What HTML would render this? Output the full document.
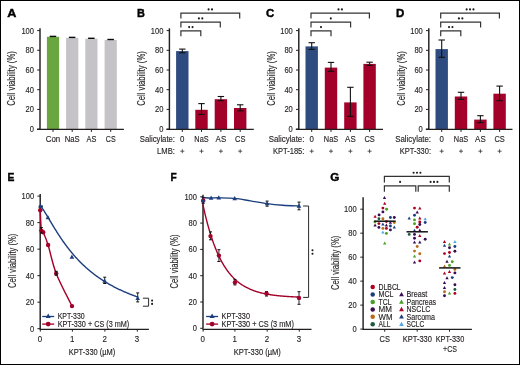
<!DOCTYPE html>
<html><head><meta charset="utf-8"><style>
html,body{margin:0;padding:0;background:#fff;}
svg{display:block;filter:blur(0.35px);}
text{font-family:"Liberation Sans", sans-serif;fill:#231f20;stroke:#231f20;stroke-width:0.14px;}
</style></head><body>
<svg width="520" height="365" viewBox="0 0 520 365">
<rect x="0" y="0" width="520" height="365" fill="#fff"/>
<text x="7.2" y="16.9" font-size="11.6" style="fill:#000;stroke:#000;stroke-width:0.4px" font-weight="bold" textLength="9.1" lengthAdjust="spacingAndGlyphs">A</text>
<text x="15.4" y="105.8" font-size="10.2" textLength="54.6" lengthAdjust="spacingAndGlyphs" transform="rotate(-90 15.4 105.8)">Cell viability (%)</text>
<line x1="40" y1="28.3" x2="40" y2="129.6" stroke="#231f20" stroke-width="1.45"/>
<line x1="37.2" y1="129.1" x2="40" y2="129.1" stroke="#231f20" stroke-width="1"/>
<text x="34" y="132.1" font-size="9" text-anchor="end" textLength="4.2" lengthAdjust="spacingAndGlyphs">0</text>
<line x1="37.2" y1="109.4" x2="40" y2="109.4" stroke="#231f20" stroke-width="1"/>
<text x="34" y="112.4" font-size="9" text-anchor="end" textLength="8.4" lengthAdjust="spacingAndGlyphs">20</text>
<line x1="37.2" y1="89.7" x2="40" y2="89.7" stroke="#231f20" stroke-width="1"/>
<text x="34" y="92.7" font-size="9" text-anchor="end" textLength="8.4" lengthAdjust="spacingAndGlyphs">40</text>
<line x1="37.2" y1="70" x2="40" y2="70" stroke="#231f20" stroke-width="1"/>
<text x="34" y="73" font-size="9" text-anchor="end" textLength="8.4" lengthAdjust="spacingAndGlyphs">60</text>
<line x1="37.2" y1="50.3" x2="40" y2="50.3" stroke="#231f20" stroke-width="1"/>
<text x="34" y="53.3" font-size="9" text-anchor="end" textLength="8.4" lengthAdjust="spacingAndGlyphs">80</text>
<line x1="37.2" y1="30.6" x2="40" y2="30.6" stroke="#231f20" stroke-width="1"/>
<text x="34" y="33.6" font-size="9" text-anchor="end" textLength="12.6" lengthAdjust="spacingAndGlyphs">100</text>
<rect x="46.9" y="36.8" width="12.2" height="92.3" fill="#69a640"/>
<rect x="66.1" y="37.8" width="12.2" height="91.3" fill="#c5c3c8"/>
<rect x="85.3" y="38.7" width="12.2" height="90.4" fill="#c5c3c8"/>
<rect x="104.6" y="39.9" width="12.2" height="89.2" fill="#c5c3c8"/>
<rect x="49.7" y="35.7" width="6.5" height="1.4" fill="#0a0a0a"/>
<rect x="68.9" y="36.7" width="6.5" height="1.4" fill="#0a0a0a"/>
<rect x="88.1" y="37.6" width="6.5" height="1.4" fill="#0a0a0a"/>
<rect x="107.4" y="38.8" width="6.5" height="1.4" fill="#0a0a0a"/>
<line x1="37" y1="129.4" x2="123.9" y2="129.4" stroke="#231f20" stroke-width="1.35"/>
<line x1="53" y1="129.1" x2="53" y2="131.9" stroke="#231f20" stroke-width="1"/>
<line x1="72.2" y1="129.1" x2="72.2" y2="131.9" stroke="#231f20" stroke-width="1"/>
<line x1="91.4" y1="129.1" x2="91.4" y2="131.9" stroke="#231f20" stroke-width="1"/>
<line x1="110.7" y1="129.1" x2="110.7" y2="131.9" stroke="#231f20" stroke-width="1"/>
<text x="45.75" y="141.8" font-size="8.8" textLength="14.5" lengthAdjust="spacingAndGlyphs">Con</text>
<text x="64.7" y="141.8" font-size="8.8" textLength="15" lengthAdjust="spacingAndGlyphs">NaS</text>
<text x="86.5" y="141.8" font-size="8.8" textLength="9.8" lengthAdjust="spacingAndGlyphs">AS</text>
<text x="105.75" y="141.8" font-size="8.8" textLength="9.9" lengthAdjust="spacingAndGlyphs">CS</text>
<text x="136.9" y="16.9" font-size="11.6" style="fill:#000;stroke:#000;stroke-width:0.4px" font-weight="bold" textLength="7.9" lengthAdjust="spacingAndGlyphs">B</text>
<text x="145.2" y="105.8" font-size="10.2" textLength="54.6" lengthAdjust="spacingAndGlyphs" transform="rotate(-90 145.2 105.8)">Cell viability (%)</text>
<line x1="169.4" y1="28.3" x2="169.4" y2="129.6" stroke="#231f20" stroke-width="1.45"/>
<line x1="166.6" y1="129.1" x2="169.4" y2="129.1" stroke="#231f20" stroke-width="1"/>
<text x="163.4" y="132.1" font-size="9" text-anchor="end" textLength="4.2" lengthAdjust="spacingAndGlyphs">0</text>
<line x1="166.6" y1="109.4" x2="169.4" y2="109.4" stroke="#231f20" stroke-width="1"/>
<text x="163.4" y="112.4" font-size="9" text-anchor="end" textLength="8.4" lengthAdjust="spacingAndGlyphs">20</text>
<line x1="166.6" y1="89.7" x2="169.4" y2="89.7" stroke="#231f20" stroke-width="1"/>
<text x="163.4" y="92.7" font-size="9" text-anchor="end" textLength="8.4" lengthAdjust="spacingAndGlyphs">40</text>
<line x1="166.6" y1="70" x2="169.4" y2="70" stroke="#231f20" stroke-width="1"/>
<text x="163.4" y="73" font-size="9" text-anchor="end" textLength="8.4" lengthAdjust="spacingAndGlyphs">60</text>
<line x1="166.6" y1="50.3" x2="169.4" y2="50.3" stroke="#231f20" stroke-width="1"/>
<text x="163.4" y="53.3" font-size="9" text-anchor="end" textLength="8.4" lengthAdjust="spacingAndGlyphs">80</text>
<line x1="166.6" y1="30.6" x2="169.4" y2="30.6" stroke="#231f20" stroke-width="1"/>
<text x="163.4" y="33.6" font-size="9" text-anchor="end" textLength="12.6" lengthAdjust="spacingAndGlyphs">100</text>
<rect x="176.1" y="51.1" width="12.4" height="78" fill="#2e4c80"/>
<rect x="195.3" y="109.8" width="12.4" height="19.3" fill="#a3002a"/>
<rect x="214.7" y="99.2" width="12.4" height="29.9" fill="#a3002a"/>
<rect x="234" y="108" width="12.4" height="21.1" fill="#a3002a"/>
<line x1="182.3" y1="49.1" x2="182.3" y2="52.8" stroke="#111" stroke-width="1.1"/>
<line x1="179.1" y1="49.1" x2="185.5" y2="49.1" stroke="#111" stroke-width="1.1"/>
<line x1="179.1" y1="52.8" x2="185.5" y2="52.8" stroke="#111" stroke-width="1.1"/>
<line x1="201.5" y1="103.6" x2="201.5" y2="114.5" stroke="#111" stroke-width="1.1"/>
<line x1="198.3" y1="103.6" x2="204.7" y2="103.6" stroke="#111" stroke-width="1.1"/>
<line x1="198.3" y1="114.5" x2="204.7" y2="114.5" stroke="#111" stroke-width="1.1"/>
<line x1="220.9" y1="96.5" x2="220.9" y2="100.7" stroke="#111" stroke-width="1.1"/>
<line x1="217.7" y1="96.5" x2="224.1" y2="96.5" stroke="#111" stroke-width="1.1"/>
<line x1="217.7" y1="100.7" x2="224.1" y2="100.7" stroke="#111" stroke-width="1.1"/>
<line x1="240.2" y1="104.8" x2="240.2" y2="110.8" stroke="#111" stroke-width="1.1"/>
<line x1="237" y1="104.8" x2="243.4" y2="104.8" stroke="#111" stroke-width="1.1"/>
<line x1="237" y1="110.8" x2="243.4" y2="110.8" stroke="#111" stroke-width="1.1"/>
<line x1="166.4" y1="129.4" x2="253.8" y2="129.4" stroke="#231f20" stroke-width="1.35"/>
<line x1="182.3" y1="129.1" x2="182.3" y2="131.9" stroke="#231f20" stroke-width="1"/>
<line x1="201.5" y1="129.1" x2="201.5" y2="131.9" stroke="#231f20" stroke-width="1"/>
<line x1="220.9" y1="129.1" x2="220.9" y2="131.9" stroke="#231f20" stroke-width="1"/>
<line x1="240.2" y1="129.1" x2="240.2" y2="131.9" stroke="#231f20" stroke-width="1"/>
<text x="139.8" y="141.9" font-size="8.8" textLength="35.2" lengthAdjust="spacingAndGlyphs">Salicylate:</text>
<text x="157.1" y="153.6" font-size="8.8" textLength="17.9" lengthAdjust="spacingAndGlyphs">LMB:</text>
<text x="180.1" y="141.9" font-size="8.8" textLength="4.4" lengthAdjust="spacingAndGlyphs">0</text>
<text x="194.35" y="141.9" font-size="8.8" textLength="14.3" lengthAdjust="spacingAndGlyphs">NaS</text>
<text x="215.6" y="141.9" font-size="8.8" textLength="10.6" lengthAdjust="spacingAndGlyphs">AS</text>
<text x="235" y="141.9" font-size="8.8" textLength="10.4" lengthAdjust="spacingAndGlyphs">CS</text>
<line x1="180.3" y1="151.2" x2="184.3" y2="151.2" stroke="#333" stroke-width="0.8"/>
<line x1="182.3" y1="149.2" x2="182.3" y2="153.2" stroke="#333" stroke-width="0.8"/>
<line x1="199.5" y1="151.2" x2="203.5" y2="151.2" stroke="#333" stroke-width="0.8"/>
<line x1="201.5" y1="149.2" x2="201.5" y2="153.2" stroke="#333" stroke-width="0.8"/>
<line x1="218.9" y1="151.2" x2="222.9" y2="151.2" stroke="#333" stroke-width="0.8"/>
<line x1="220.9" y1="149.2" x2="220.9" y2="153.2" stroke="#333" stroke-width="0.8"/>
<line x1="238.2" y1="151.2" x2="242.2" y2="151.2" stroke="#333" stroke-width="0.8"/>
<line x1="240.2" y1="149.2" x2="240.2" y2="153.2" stroke="#333" stroke-width="0.8"/>
<path d="M180.9 36.2V30.8H200.8V36.2" fill="none" stroke="#333" stroke-width="1.2"/>
<circle cx="189.15" cy="27.1" r="1.05" fill="#1a1a1a"/>
<circle cx="192.55" cy="27.1" r="1.05" fill="#1a1a1a"/>
<path d="M180.9 27.5V22.1H220.3V27.5" fill="none" stroke="#333" stroke-width="1.2"/>
<circle cx="198.9" cy="18.4" r="1.05" fill="#1a1a1a"/>
<circle cx="202.3" cy="18.4" r="1.05" fill="#1a1a1a"/>
<path d="M180.9 18.5V13.1H239.7V18.5" fill="none" stroke="#333" stroke-width="1.2"/>
<circle cx="208.6" cy="9.4" r="1.05" fill="#1a1a1a"/>
<circle cx="212" cy="9.4" r="1.05" fill="#1a1a1a"/>
<text x="266" y="17.3" font-size="11.6" style="fill:#000;stroke:#000;stroke-width:0.4px" font-weight="bold" textLength="8.3" lengthAdjust="spacingAndGlyphs">C</text>
<text x="275.2" y="105.8" font-size="10.2" textLength="54.6" lengthAdjust="spacingAndGlyphs" transform="rotate(-90 275.2 105.8)">Cell viability (%)</text>
<line x1="298.8" y1="28.3" x2="298.8" y2="129.6" stroke="#231f20" stroke-width="1.45"/>
<line x1="296" y1="129.1" x2="298.8" y2="129.1" stroke="#231f20" stroke-width="1"/>
<text x="292.8" y="132.1" font-size="9" text-anchor="end" textLength="4.2" lengthAdjust="spacingAndGlyphs">0</text>
<line x1="296" y1="109.4" x2="298.8" y2="109.4" stroke="#231f20" stroke-width="1"/>
<text x="292.8" y="112.4" font-size="9" text-anchor="end" textLength="8.4" lengthAdjust="spacingAndGlyphs">20</text>
<line x1="296" y1="89.7" x2="298.8" y2="89.7" stroke="#231f20" stroke-width="1"/>
<text x="292.8" y="92.7" font-size="9" text-anchor="end" textLength="8.4" lengthAdjust="spacingAndGlyphs">40</text>
<line x1="296" y1="70" x2="298.8" y2="70" stroke="#231f20" stroke-width="1"/>
<text x="292.8" y="73" font-size="9" text-anchor="end" textLength="8.4" lengthAdjust="spacingAndGlyphs">60</text>
<line x1="296" y1="50.3" x2="298.8" y2="50.3" stroke="#231f20" stroke-width="1"/>
<text x="292.8" y="53.3" font-size="9" text-anchor="end" textLength="8.4" lengthAdjust="spacingAndGlyphs">80</text>
<line x1="296" y1="30.6" x2="298.8" y2="30.6" stroke="#231f20" stroke-width="1"/>
<text x="292.8" y="33.6" font-size="9" text-anchor="end" textLength="12.6" lengthAdjust="spacingAndGlyphs">100</text>
<rect x="305.5" y="46.4" width="12.4" height="82.7" fill="#2e4c80"/>
<rect x="324.8" y="67.6" width="12.4" height="61.5" fill="#a3002a"/>
<rect x="344.2" y="102.4" width="12.4" height="26.7" fill="#a3002a"/>
<rect x="363.4" y="63.9" width="12.4" height="65.2" fill="#a3002a"/>
<line x1="311.7" y1="42.7" x2="311.7" y2="49.4" stroke="#111" stroke-width="1.1"/>
<line x1="308.5" y1="42.7" x2="314.9" y2="42.7" stroke="#111" stroke-width="1.1"/>
<line x1="308.5" y1="49.4" x2="314.9" y2="49.4" stroke="#111" stroke-width="1.1"/>
<line x1="331" y1="62.4" x2="331" y2="71.3" stroke="#111" stroke-width="1.1"/>
<line x1="327.8" y1="62.4" x2="334.2" y2="62.4" stroke="#111" stroke-width="1.1"/>
<line x1="327.8" y1="71.3" x2="334.2" y2="71.3" stroke="#111" stroke-width="1.1"/>
<line x1="350.4" y1="87.3" x2="350.4" y2="116.4" stroke="#111" stroke-width="1.1"/>
<line x1="347.2" y1="87.3" x2="353.6" y2="87.3" stroke="#111" stroke-width="1.1"/>
<line x1="347.2" y1="116.4" x2="353.6" y2="116.4" stroke="#111" stroke-width="1.1"/>
<line x1="369.6" y1="62.2" x2="369.6" y2="65.4" stroke="#111" stroke-width="1.1"/>
<line x1="366.4" y1="62.2" x2="372.8" y2="62.2" stroke="#111" stroke-width="1.1"/>
<line x1="366.4" y1="65.4" x2="372.8" y2="65.4" stroke="#111" stroke-width="1.1"/>
<line x1="295.8" y1="129.4" x2="383" y2="129.4" stroke="#231f20" stroke-width="1.35"/>
<line x1="311.7" y1="129.1" x2="311.7" y2="131.9" stroke="#231f20" stroke-width="1"/>
<line x1="331" y1="129.1" x2="331" y2="131.9" stroke="#231f20" stroke-width="1"/>
<line x1="350.4" y1="129.1" x2="350.4" y2="131.9" stroke="#231f20" stroke-width="1"/>
<line x1="369.6" y1="129.1" x2="369.6" y2="131.9" stroke="#231f20" stroke-width="1"/>
<text x="268.7" y="141.9" font-size="8.8" textLength="35.7" lengthAdjust="spacingAndGlyphs">Salicylate:</text>
<text x="272.9" y="153.6" font-size="8.8" textLength="31.5" lengthAdjust="spacingAndGlyphs">KPT-185:</text>
<text x="309.5" y="141.9" font-size="8.8" textLength="4.4" lengthAdjust="spacingAndGlyphs">0</text>
<text x="323.85" y="141.9" font-size="8.8" textLength="14.3" lengthAdjust="spacingAndGlyphs">NaS</text>
<text x="345.1" y="141.9" font-size="8.8" textLength="10.6" lengthAdjust="spacingAndGlyphs">AS</text>
<text x="364.4" y="141.9" font-size="8.8" textLength="10.4" lengthAdjust="spacingAndGlyphs">CS</text>
<line x1="309.7" y1="151.2" x2="313.7" y2="151.2" stroke="#333" stroke-width="0.8"/>
<line x1="311.7" y1="149.2" x2="311.7" y2="153.2" stroke="#333" stroke-width="0.8"/>
<line x1="329" y1="151.2" x2="333" y2="151.2" stroke="#333" stroke-width="0.8"/>
<line x1="331" y1="149.2" x2="331" y2="153.2" stroke="#333" stroke-width="0.8"/>
<line x1="348.4" y1="151.2" x2="352.4" y2="151.2" stroke="#333" stroke-width="0.8"/>
<line x1="350.4" y1="149.2" x2="350.4" y2="153.2" stroke="#333" stroke-width="0.8"/>
<line x1="367.6" y1="151.2" x2="371.6" y2="151.2" stroke="#333" stroke-width="0.8"/>
<line x1="369.6" y1="149.2" x2="369.6" y2="153.2" stroke="#333" stroke-width="0.8"/>
<path d="M311 36.2V30.8H331V36.2" fill="none" stroke="#333" stroke-width="1.2"/>
<circle cx="321" cy="27.1" r="1.05" fill="#1a1a1a"/>
<path d="M311 27.5V22.1H350.6V27.5" fill="none" stroke="#333" stroke-width="1.2"/>
<circle cx="330.8" cy="18.4" r="1.05" fill="#1a1a1a"/>
<path d="M311 18.5V13.1H369.4V18.5" fill="none" stroke="#333" stroke-width="1.2"/>
<circle cx="338.5" cy="9.4" r="1.05" fill="#1a1a1a"/>
<circle cx="341.9" cy="9.4" r="1.05" fill="#1a1a1a"/>
<text x="396" y="17.2" font-size="11.6" style="fill:#000;stroke:#000;stroke-width:0.4px" font-weight="bold" textLength="8.3" lengthAdjust="spacingAndGlyphs">D</text>
<text x="405.2" y="105.8" font-size="10.2" textLength="54.6" lengthAdjust="spacingAndGlyphs" transform="rotate(-90 405.2 105.8)">Cell viability (%)</text>
<line x1="428.8" y1="28.3" x2="428.8" y2="129.6" stroke="#231f20" stroke-width="1.45"/>
<line x1="426" y1="129.1" x2="428.8" y2="129.1" stroke="#231f20" stroke-width="1"/>
<text x="422.8" y="132.1" font-size="9" text-anchor="end" textLength="4.2" lengthAdjust="spacingAndGlyphs">0</text>
<line x1="426" y1="109.4" x2="428.8" y2="109.4" stroke="#231f20" stroke-width="1"/>
<text x="422.8" y="112.4" font-size="9" text-anchor="end" textLength="8.4" lengthAdjust="spacingAndGlyphs">20</text>
<line x1="426" y1="89.7" x2="428.8" y2="89.7" stroke="#231f20" stroke-width="1"/>
<text x="422.8" y="92.7" font-size="9" text-anchor="end" textLength="8.4" lengthAdjust="spacingAndGlyphs">40</text>
<line x1="426" y1="70" x2="428.8" y2="70" stroke="#231f20" stroke-width="1"/>
<text x="422.8" y="73" font-size="9" text-anchor="end" textLength="8.4" lengthAdjust="spacingAndGlyphs">60</text>
<line x1="426" y1="50.3" x2="428.8" y2="50.3" stroke="#231f20" stroke-width="1"/>
<text x="422.8" y="53.3" font-size="9" text-anchor="end" textLength="8.4" lengthAdjust="spacingAndGlyphs">80</text>
<line x1="426" y1="30.6" x2="428.8" y2="30.6" stroke="#231f20" stroke-width="1"/>
<text x="422.8" y="33.6" font-size="9" text-anchor="end" textLength="12.6" lengthAdjust="spacingAndGlyphs">100</text>
<rect x="435.5" y="49.1" width="12.4" height="80" fill="#2e4c80"/>
<rect x="454.8" y="96.5" width="12.4" height="32.6" fill="#a3002a"/>
<rect x="474.2" y="119.6" width="12.4" height="9.5" fill="#a3002a"/>
<rect x="493.4" y="93.7" width="12.4" height="35.4" fill="#a3002a"/>
<line x1="441.7" y1="40" x2="441.7" y2="57.3" stroke="#111" stroke-width="1.1"/>
<line x1="438.5" y1="40" x2="444.9" y2="40" stroke="#111" stroke-width="1.1"/>
<line x1="438.5" y1="57.3" x2="444.9" y2="57.3" stroke="#111" stroke-width="1.1"/>
<line x1="461" y1="92.3" x2="461" y2="99.4" stroke="#111" stroke-width="1.1"/>
<line x1="457.8" y1="92.3" x2="464.2" y2="92.3" stroke="#111" stroke-width="1.1"/>
<line x1="457.8" y1="99.4" x2="464.2" y2="99.4" stroke="#111" stroke-width="1.1"/>
<line x1="480.4" y1="115.7" x2="480.4" y2="122.6" stroke="#111" stroke-width="1.1"/>
<line x1="477.2" y1="115.7" x2="483.6" y2="115.7" stroke="#111" stroke-width="1.1"/>
<line x1="477.2" y1="122.6" x2="483.6" y2="122.6" stroke="#111" stroke-width="1.1"/>
<line x1="499.6" y1="86.1" x2="499.6" y2="100.7" stroke="#111" stroke-width="1.1"/>
<line x1="496.4" y1="86.1" x2="502.8" y2="86.1" stroke="#111" stroke-width="1.1"/>
<line x1="496.4" y1="100.7" x2="502.8" y2="100.7" stroke="#111" stroke-width="1.1"/>
<line x1="425.8" y1="129.4" x2="512.5" y2="129.4" stroke="#231f20" stroke-width="1.35"/>
<line x1="441.7" y1="129.1" x2="441.7" y2="131.9" stroke="#231f20" stroke-width="1"/>
<line x1="461" y1="129.1" x2="461" y2="131.9" stroke="#231f20" stroke-width="1"/>
<line x1="480.4" y1="129.1" x2="480.4" y2="131.9" stroke="#231f20" stroke-width="1"/>
<line x1="499.6" y1="129.1" x2="499.6" y2="131.9" stroke="#231f20" stroke-width="1"/>
<text x="395.2" y="141.9" font-size="8.8" textLength="35.8" lengthAdjust="spacingAndGlyphs">Salicylate:</text>
<text x="399.8" y="153.6" font-size="8.8" textLength="31.2" lengthAdjust="spacingAndGlyphs">KPT-330:</text>
<text x="439.5" y="141.9" font-size="8.8" textLength="4.4" lengthAdjust="spacingAndGlyphs">0</text>
<text x="453.85" y="141.9" font-size="8.8" textLength="14.3" lengthAdjust="spacingAndGlyphs">NaS</text>
<text x="475.1" y="141.9" font-size="8.8" textLength="10.6" lengthAdjust="spacingAndGlyphs">AS</text>
<text x="494.4" y="141.9" font-size="8.8" textLength="10.4" lengthAdjust="spacingAndGlyphs">CS</text>
<line x1="439.7" y1="151.2" x2="443.7" y2="151.2" stroke="#333" stroke-width="0.8"/>
<line x1="441.7" y1="149.2" x2="441.7" y2="153.2" stroke="#333" stroke-width="0.8"/>
<line x1="459" y1="151.2" x2="463" y2="151.2" stroke="#333" stroke-width="0.8"/>
<line x1="461" y1="149.2" x2="461" y2="153.2" stroke="#333" stroke-width="0.8"/>
<line x1="478.4" y1="151.2" x2="482.4" y2="151.2" stroke="#333" stroke-width="0.8"/>
<line x1="480.4" y1="149.2" x2="480.4" y2="153.2" stroke="#333" stroke-width="0.8"/>
<line x1="497.6" y1="151.2" x2="501.6" y2="151.2" stroke="#333" stroke-width="0.8"/>
<line x1="499.6" y1="149.2" x2="499.6" y2="153.2" stroke="#333" stroke-width="0.8"/>
<path d="M440.7 36.2V30.8H460.8V36.2" fill="none" stroke="#333" stroke-width="1.2"/>
<circle cx="449.05" cy="27.1" r="1.05" fill="#1a1a1a"/>
<circle cx="452.45" cy="27.1" r="1.05" fill="#1a1a1a"/>
<path d="M440.7 27.5V22.1H480.6V27.5" fill="none" stroke="#333" stroke-width="1.2"/>
<circle cx="458.95" cy="18.4" r="1.05" fill="#1a1a1a"/>
<circle cx="462.35" cy="18.4" r="1.05" fill="#1a1a1a"/>
<path d="M440.7 18.5V13.1H499.4V18.5" fill="none" stroke="#333" stroke-width="1.2"/>
<circle cx="466.65" cy="9.4" r="1.05" fill="#1a1a1a"/>
<circle cx="470.05" cy="9.4" r="1.05" fill="#1a1a1a"/>
<circle cx="473.45" cy="9.4" r="1.05" fill="#1a1a1a"/>
<text x="7.5" y="181" font-size="11.6" style="fill:#000;stroke:#000;stroke-width:0.4px" font-weight="bold" textLength="6.9" lengthAdjust="spacingAndGlyphs">E</text>
<line x1="40.2" y1="194.1" x2="40.2" y2="329.2" stroke="#231f20" stroke-width="1.45"/>
<line x1="37.4" y1="328.7" x2="40.2" y2="328.7" stroke="#231f20" stroke-width="1"/>
<text x="34.2" y="331.7" font-size="9" text-anchor="end" textLength="4.2" lengthAdjust="spacingAndGlyphs">0</text>
<line x1="37.4" y1="302.18" x2="40.2" y2="302.18" stroke="#231f20" stroke-width="1"/>
<text x="34.2" y="305.18" font-size="9" text-anchor="end" textLength="8.4" lengthAdjust="spacingAndGlyphs">20</text>
<line x1="37.4" y1="275.66" x2="40.2" y2="275.66" stroke="#231f20" stroke-width="1"/>
<text x="34.2" y="278.66" font-size="9" text-anchor="end" textLength="8.4" lengthAdjust="spacingAndGlyphs">40</text>
<line x1="37.4" y1="249.14" x2="40.2" y2="249.14" stroke="#231f20" stroke-width="1"/>
<text x="34.2" y="252.14" font-size="9" text-anchor="end" textLength="8.4" lengthAdjust="spacingAndGlyphs">60</text>
<line x1="37.4" y1="222.62" x2="40.2" y2="222.62" stroke="#231f20" stroke-width="1"/>
<text x="34.2" y="225.62" font-size="9" text-anchor="end" textLength="8.4" lengthAdjust="spacingAndGlyphs">80</text>
<line x1="37.4" y1="196.1" x2="40.2" y2="196.1" stroke="#231f20" stroke-width="1"/>
<text x="34.2" y="199.1" font-size="9" text-anchor="end" textLength="12.6" lengthAdjust="spacingAndGlyphs">100</text>
<line x1="39.7" y1="329.4" x2="148.9" y2="329.4" stroke="#231f20" stroke-width="1.35"/>
<line x1="40.3" y1="329.1" x2="40.3" y2="331.6" stroke="#231f20" stroke-width="1"/>
<text x="40" y="342.2" font-size="9" text-anchor="middle" textLength="4.4" lengthAdjust="spacingAndGlyphs">0</text>
<line x1="72.4" y1="329.1" x2="72.4" y2="331.6" stroke="#231f20" stroke-width="1"/>
<text x="72.1" y="342.2" font-size="9" text-anchor="middle" textLength="4.4" lengthAdjust="spacingAndGlyphs">1</text>
<line x1="104.9" y1="329.1" x2="104.9" y2="331.6" stroke="#231f20" stroke-width="1"/>
<text x="104.6" y="342.2" font-size="9" text-anchor="middle" textLength="4.4" lengthAdjust="spacingAndGlyphs">2</text>
<line x1="137.3" y1="329.1" x2="137.3" y2="331.6" stroke="#231f20" stroke-width="1"/>
<text x="137" y="342.2" font-size="9" text-anchor="middle" textLength="4.4" lengthAdjust="spacingAndGlyphs">3</text>
<text x="68.7" y="355" font-size="8.2" textLength="46.5" lengthAdjust="spacingAndGlyphs">KPT-330 (µM)</text>
<line x1="42.2" y1="316.5" x2="54.2" y2="316.5" stroke="#1c3e7e" stroke-width="1.3"/>
<path d="M48.2 313.6L50.7 318.1L45.7 318.1Z" fill="#1c3e7e"/>
<line x1="42.2" y1="324.1" x2="54.2" y2="324.1" stroke="#a3002a" stroke-width="1.3"/>
<circle cx="48.2" cy="324.1" r="2.4" fill="#a3002a"/>
<text x="57.7" y="318.8" font-size="8.2" textLength="27" lengthAdjust="spacingAndGlyphs">KPT-330</text>
<text x="57.7" y="326.6" font-size="8.2" textLength="71.5" lengthAdjust="spacingAndGlyphs">KPT-330 + CS (3 mM)</text>
<text x="16" y="287.9" font-size="10.2" textLength="54.2" lengthAdjust="spacingAndGlyphs" transform="rotate(-90 16 287.9)">Cell viability (%)</text>
<path d="M40.4 206.28 L40.9 206.73 L41.4 207.28 L41.9 207.9 L42.4 208.56 L42.9 209.25 L43.4 209.98 L43.9 210.73 L44.4 211.49 L44.9 212.28 L45.4 213.07 L45.9 213.88 L46.4 214.7 L46.9 215.52 L47.4 216.35 L47.9 217.18 L48.4 218.02 L48.9 218.85 L49.4 219.69 L49.9 220.53 L50.4 221.37 L50.9 222.21 L51.4 223.05 L51.9 223.88 L52.4 224.71 L52.9 225.54 L53.4 226.37 L53.9 227.19 L54.4 228 L54.9 228.82 L55.4 229.62 L55.9 230.43 L56.4 231.23 L56.9 232.02 L57.4 232.8 L57.9 233.58 L58.4 234.36 L58.9 235.13 L59.4 235.89 L59.9 236.65 L60.4 237.4 L60.9 238.14 L61.4 238.88 L61.9 239.61 L62.4 240.34 L62.9 241.06 L63.4 241.77 L63.9 242.47 L64.4 243.17 L64.9 243.86 L65.4 244.55 L65.9 245.23 L66.4 245.9 L66.9 246.57 L67.4 247.23 L67.9 247.88 L68.4 248.53 L68.9 249.17 L69.4 249.8 L69.9 250.43 L70.4 251.05 L70.9 251.66 L71.4 252.27 L71.9 252.88 L72.4 253.47 L72.9 254.06 L73.4 254.65 L73.9 255.23 L74.4 255.8 L74.9 256.36 L75.4 256.93 L75.9 257.48 L76.4 258.03 L76.9 258.57 L77.4 259.11 L77.9 259.64 L78.4 260.17 L78.9 260.69 L79.4 261.21 L79.9 261.72 L80.4 262.22 L80.9 262.73 L81.4 263.22 L81.9 263.71 L82.4 264.2 L82.9 264.68 L83.4 265.15 L83.9 265.62 L84.4 266.09 L84.9 266.55 L85.4 267 L85.9 267.45 L86.4 267.9 L86.9 268.34 L87.4 268.78 L87.9 269.21 L88.4 269.64 L88.9 270.07 L89.4 270.49 L89.9 270.9 L90.4 271.32 L90.9 271.72 L91.4 272.13 L91.9 272.53 L92.4 272.92 L92.9 273.31 L93.4 273.7 L93.9 274.09 L94.4 274.47 L94.9 274.84 L95.4 275.22 L95.9 275.58 L96.4 275.95 L96.9 276.31 L97.4 276.67 L97.9 277.02 L98.4 277.38 L98.9 277.72 L99.4 278.07 L99.9 278.41 L100.4 278.75 L100.9 279.08 L101.4 279.41 L101.9 279.74 L102.4 280.07 L102.9 280.39 L103.4 280.71 L103.9 281.03 L104.4 281.34 L104.9 281.65 L105.4 281.96 L105.9 282.26 L106.4 282.56 L106.9 282.86 L107.4 283.16 L107.9 283.45 L108.4 283.74 L108.9 284.03 L109.4 284.31 L109.9 284.6 L110.4 284.88 L110.9 285.15 L111.4 285.43 L111.9 285.7 L112.4 285.97 L112.9 286.24 L113.4 286.51 L113.9 286.77 L114.4 287.03 L114.9 287.29 L115.4 287.54 L115.9 287.8 L116.4 288.05 L116.9 288.3 L117.4 288.55 L117.9 288.79 L118.4 289.03 L118.9 289.27 L119.4 289.51 L119.9 289.75 L120.4 289.98 L120.9 290.22 L121.4 290.45 L121.9 290.68 L122.4 290.9 L122.9 291.13 L123.4 291.35 L123.9 291.57 L124.4 291.79 L124.9 292.01 L125.4 292.22 L125.9 292.44 L126.4 292.65 L126.9 292.86 L127.4 293.07 L127.9 293.27 L128.4 293.48 L128.9 293.68 L129.4 293.88 L129.9 294.08 L130.4 294.28 L130.9 294.48 L131.4 294.67 L131.9 294.87 L132.4 295.06 L132.9 295.25 L133.4 295.44 L133.9 295.63 L134.4 295.81 L134.9 296 L135.4 296.18 L135.9 296.36 L136.4 296.54 L136.9 296.72 L137.4 296.9 L137.9 297.07" fill="none" stroke="#1c3e7e" stroke-width="1.4" stroke-linejoin="round" stroke-linecap="round"/>
<path d="M40.2 210.3C40.4 213.68 40.9 226.93 41.4 230.6C41.9 234.27 42.08 229.9 43.2 232.3C44.32 234.7 45.93 238.15 48.1 245C50.27 251.85 52.22 263.22 56.2 273.4C60.18 283.58 69.37 300.65 72 306.1" fill="none" stroke="#a3002a" stroke-width="1.4" stroke-linejoin="round" stroke-linecap="round"/>
<circle cx="41.4" cy="230.6" r="2.2" fill="#a3002a"/>
<circle cx="43.2" cy="232.3" r="2.2" fill="#a3002a"/>
<circle cx="48.1" cy="245" r="2.2" fill="#a3002a"/>
<circle cx="56.2" cy="273.4" r="2.2" fill="#a3002a"/>
<circle cx="72" cy="306.1" r="2.2" fill="#a3002a"/>
<circle cx="40.2" cy="210.3" r="2.2" fill="#a3002a"/>
<line x1="56.2" y1="271.3" x2="56.2" y2="275.2" stroke="#111" stroke-width="0.9"/>
<line x1="54.7" y1="271.3" x2="57.7" y2="271.3" stroke="#111" stroke-width="1.0"/>
<line x1="54.7" y1="275.2" x2="57.7" y2="275.2" stroke="#111" stroke-width="1.0"/>
<line x1="104.7" y1="277.2" x2="104.7" y2="283.5" stroke="#111" stroke-width="0.9"/>
<line x1="103.2" y1="277.2" x2="106.2" y2="277.2" stroke="#111" stroke-width="1.0"/>
<line x1="103.2" y1="283.5" x2="106.2" y2="283.5" stroke="#111" stroke-width="1.0"/>
<line x1="137.7" y1="292.9" x2="137.7" y2="301.9" stroke="#111" stroke-width="0.9"/>
<line x1="136.2" y1="292.9" x2="139.2" y2="292.9" stroke="#111" stroke-width="1.0"/>
<line x1="136.2" y1="301.9" x2="139.2" y2="301.9" stroke="#111" stroke-width="1.0"/>
<line x1="40.8" y1="206.2" x2="40.8" y2="206.2" stroke="#111" stroke-width="0.9"/>
<line x1="38.8" y1="206.2" x2="42.8" y2="206.2" stroke="#111" stroke-width="1.0"/>
<line x1="38.8" y1="206.2" x2="42.8" y2="206.2" stroke="#111" stroke-width="1.0"/>
<line x1="41.4" y1="227.6" x2="41.4" y2="233" stroke="#111" stroke-width="0.9"/>
<line x1="39.9" y1="227.6" x2="42.9" y2="227.6" stroke="#111" stroke-width="1.0"/>
<line x1="39.9" y1="233" x2="42.9" y2="233" stroke="#111" stroke-width="1.0"/>
<path d="M40.6 203.82L42.9 207.96L38.3 207.96Z" fill="#1c3e7e"/>
<path d="M47.9 215.12L50.2 219.26L45.6 219.26Z" fill="#1c3e7e"/>
<path d="M71.9 254.52L74.2 258.66L69.6 258.66Z" fill="#1c3e7e"/>
<path d="M104.7 278.52L107 282.66L102.4 282.66Z" fill="#1c3e7e"/>
<path d="M137.7 295.92L140 300.06L135.4 300.06Z" fill="#1c3e7e"/>
<path d="M142.9 298.2H148.6V306.2H142.9" fill="none" stroke="#2a2a2a" stroke-width="1"/>
<circle cx="152.1" cy="300.6" r="1.05" fill="#1a1a1a"/>
<circle cx="152.1" cy="303.9" r="1.05" fill="#1a1a1a"/>
<text x="170.4" y="181" font-size="11.6" style="fill:#000;stroke:#000;stroke-width:0.4px" font-weight="bold" textLength="6.2" lengthAdjust="spacingAndGlyphs">F</text>
<line x1="203" y1="194.8" x2="203" y2="328.8" stroke="#231f20" stroke-width="1.45"/>
<line x1="200.2" y1="328.3" x2="203" y2="328.3" stroke="#231f20" stroke-width="1"/>
<text x="197" y="331.3" font-size="9" text-anchor="end" textLength="4.2" lengthAdjust="spacingAndGlyphs">0</text>
<line x1="200.2" y1="302" x2="203" y2="302" stroke="#231f20" stroke-width="1"/>
<text x="197" y="305" font-size="9" text-anchor="end" textLength="8.4" lengthAdjust="spacingAndGlyphs">20</text>
<line x1="200.2" y1="275.7" x2="203" y2="275.7" stroke="#231f20" stroke-width="1"/>
<text x="197" y="278.7" font-size="9" text-anchor="end" textLength="8.4" lengthAdjust="spacingAndGlyphs">40</text>
<line x1="200.2" y1="249.4" x2="203" y2="249.4" stroke="#231f20" stroke-width="1"/>
<text x="197" y="252.4" font-size="9" text-anchor="end" textLength="8.4" lengthAdjust="spacingAndGlyphs">60</text>
<line x1="200.2" y1="223.1" x2="203" y2="223.1" stroke="#231f20" stroke-width="1"/>
<text x="197" y="226.1" font-size="9" text-anchor="end" textLength="8.4" lengthAdjust="spacingAndGlyphs">80</text>
<line x1="200.2" y1="196.8" x2="203" y2="196.8" stroke="#231f20" stroke-width="1"/>
<text x="197" y="199.8" font-size="9" text-anchor="end" textLength="12.6" lengthAdjust="spacingAndGlyphs">100</text>
<line x1="202.5" y1="329.4" x2="311.5" y2="329.4" stroke="#231f20" stroke-width="1.35"/>
<line x1="203.1" y1="329.1" x2="203.1" y2="331.6" stroke="#231f20" stroke-width="1"/>
<text x="202.8" y="342.2" font-size="9" text-anchor="middle" textLength="4.4" lengthAdjust="spacingAndGlyphs">0</text>
<line x1="234.9" y1="329.1" x2="234.9" y2="331.6" stroke="#231f20" stroke-width="1"/>
<text x="234.6" y="342.2" font-size="9" text-anchor="middle" textLength="4.4" lengthAdjust="spacingAndGlyphs">1</text>
<line x1="267.2" y1="329.1" x2="267.2" y2="331.6" stroke="#231f20" stroke-width="1"/>
<text x="266.9" y="342.2" font-size="9" text-anchor="middle" textLength="4.4" lengthAdjust="spacingAndGlyphs">2</text>
<line x1="299.3" y1="329.1" x2="299.3" y2="331.6" stroke="#231f20" stroke-width="1"/>
<text x="299" y="342.2" font-size="9" text-anchor="middle" textLength="4.4" lengthAdjust="spacingAndGlyphs">3</text>
<text x="233.8" y="355" font-size="8.2" textLength="47" lengthAdjust="spacingAndGlyphs">KPT-330 (µM)</text>
<line x1="206.1" y1="316.5" x2="218.1" y2="316.5" stroke="#1c3e7e" stroke-width="1.3"/>
<path d="M212.1 313.6L214.6 318.1L209.6 318.1Z" fill="#1c3e7e"/>
<line x1="206.1" y1="324.1" x2="218.1" y2="324.1" stroke="#a3002a" stroke-width="1.3"/>
<circle cx="212.1" cy="324.1" r="2.4" fill="#a3002a"/>
<text x="221.6" y="318.8" font-size="8.2" textLength="28.4" lengthAdjust="spacingAndGlyphs">KPT-330</text>
<text x="221.6" y="326.6" font-size="8.2" textLength="72.3" lengthAdjust="spacingAndGlyphs">KPT-330 + CS (3 mM)</text>
<text x="178" y="288.6" font-size="10.2" textLength="54.2" lengthAdjust="spacingAndGlyphs" transform="rotate(-90 178 288.6)">Cell viability (%)</text>
<path d="M203 197.7C204.35 197.75 208.47 197.98 211.1 198C213.73 198.02 214.87 197.73 218.8 197.8C222.73 197.87 229.42 197.88 234.7 198.4C239.98 198.92 245.1 200.03 250.5 200.9C255.9 201.77 261.72 202.88 267.1 203.6C272.48 204.32 277.48 204.8 282.8 205.2C288.12 205.6 296.3 205.87 299 206" fill="none" stroke="#1c3e7e" stroke-width="1.4" stroke-linejoin="round" stroke-linecap="round"/>
<path d="M203 204.88 L203.5 207.2 L204 209.46 L204.5 211.66 L205 213.81 L205.5 215.9 L206 217.94 L206.5 219.94 L207 221.88 L207.5 223.77 L208 225.62 L208.5 227.42 L209 229.17 L209.5 230.88 L210 232.55 L210.5 234.18 L211 235.77 L211.5 237.31 L212 238.82 L212.5 240.29 L213 241.73 L213.5 243.13 L214 244.49 L214.5 245.82 L215 247.11 L215.5 248.38 L216 249.61 L216.5 250.81 L217 251.98 L217.5 253.13 L218 254.24 L218.5 255.33 L219 256.39 L219.5 257.42 L220 258.43 L220.5 259.41 L221 260.36 L221.5 261.3 L222 262.21 L222.5 263.1 L223 263.96 L223.5 264.81 L224 265.63 L224.5 266.43 L225 267.21 L225.5 267.97 L226 268.72 L226.5 269.44 L227 270.15 L227.5 270.84 L228 271.51 L228.5 272.17 L229 272.81 L229.5 273.43 L230 274.04 L230.5 274.63 L231 275.21 L231.5 275.77 L232 276.32 L232.5 276.86 L233 277.38 L233.5 277.89 L234 278.38 L234.5 278.87 L235 279.34 L235.5 279.8 L236 280.25 L236.5 280.69 L237 281.11 L237.5 281.53 L238 281.93 L238.5 282.33 L239 282.72 L239.5 283.09 L240 283.46 L240.5 283.82 L241 284.16 L241.5 284.5 L242 284.84 L242.5 285.16 L243 285.47 L243.5 285.78 L244 286.08 L244.5 286.37 L245 286.66 L245.5 286.94 L246 287.21 L246.5 287.47 L247 287.73 L247.5 287.98 L248 288.22 L248.5 288.46 L249 288.69 L249.5 288.92 L250 289.14 L250.5 289.36 L251 289.57 L251.5 289.77 L252 289.97 L252.5 290.17 L253 290.36 L253.5 290.54 L254 290.73 L254.5 290.9 L255 291.07 L255.5 291.24 L256 291.4 L256.5 291.56 L257 291.72 L257.5 291.87 L258 292.02 L258.5 292.16 L259 292.3 L259.5 292.44 L260 292.57 L260.5 292.7 L261 292.83 L261.5 292.95 L262 293.07 L262.5 293.19 L263 293.31 L263.5 293.42 L264 293.53 L264.5 293.63 L265 293.74 L265.5 293.84 L266 293.94 L266.5 294.03 L267 294.13 L267.5 294.22 L268 294.31 L268.5 294.39 L269 294.48 L269.5 294.56 L270 294.64 L270.5 294.72 L271 294.8 L271.5 294.87 L272 294.95 L272.5 295.02 L273 295.09 L273.5 295.15 L274 295.22 L274.5 295.28 L275 295.35 L275.5 295.41 L276 295.47 L276.5 295.52 L277 295.58 L277.5 295.64 L278 295.69 L278.5 295.74 L279 295.79 L279.5 295.84 L280 295.89 L280.5 295.94 L281 295.99 L281.5 296.03 L282 296.07 L282.5 296.12 L283 296.16 L283.5 296.2 L284 296.24 L284.5 296.28 L285 296.32 L285.5 296.35 L286 296.39 L286.5 296.42 L287 296.46 L287.5 296.49 L288 296.52 L288.5 296.56 L289 296.59 L289.5 296.62 L290 296.65 L290.5 296.67 L291 296.7 L291.5 296.73 L292 296.76 L292.5 296.78 L293 296.81 L293.5 296.83 L294 296.86 L294.5 296.88 L295 296.9 L295.5 296.92 L296 296.95 L296.5 296.97 L297 296.99 L297.5 297.01 L298 297.03 L298.5 297.05 L299 297.06" fill="none" stroke="#a3002a" stroke-width="1.4" stroke-linejoin="round" stroke-linecap="round"/>
<line x1="203.2" y1="197.4" x2="203.2" y2="203.3" stroke="#111" stroke-width="0.9"/>
<line x1="201.7" y1="197.4" x2="204.7" y2="197.4" stroke="#111" stroke-width="1.0"/>
<line x1="201.7" y1="203.3" x2="204.7" y2="203.3" stroke="#111" stroke-width="1.0"/>
<line x1="210.5" y1="231.9" x2="210.5" y2="239.8" stroke="#111" stroke-width="0.9"/>
<line x1="209" y1="231.9" x2="212" y2="231.9" stroke="#111" stroke-width="1.0"/>
<line x1="209" y1="239.8" x2="212" y2="239.8" stroke="#111" stroke-width="1.0"/>
<line x1="218.9" y1="249.7" x2="218.9" y2="261.5" stroke="#111" stroke-width="0.9"/>
<line x1="217.4" y1="249.7" x2="220.4" y2="249.7" stroke="#111" stroke-width="1.0"/>
<line x1="217.4" y1="261.5" x2="220.4" y2="261.5" stroke="#111" stroke-width="1.0"/>
<line x1="234.9" y1="279.7" x2="234.9" y2="284.9" stroke="#111" stroke-width="0.9"/>
<line x1="233.4" y1="279.7" x2="236.4" y2="279.7" stroke="#111" stroke-width="1.0"/>
<line x1="233.4" y1="284.9" x2="236.4" y2="284.9" stroke="#111" stroke-width="1.0"/>
<line x1="266.5" y1="291.6" x2="266.5" y2="296" stroke="#111" stroke-width="0.9"/>
<line x1="265" y1="291.6" x2="268" y2="291.6" stroke="#111" stroke-width="1.0"/>
<line x1="265" y1="296" x2="268" y2="296" stroke="#111" stroke-width="1.0"/>
<line x1="299" y1="291.7" x2="299" y2="304.3" stroke="#111" stroke-width="0.9"/>
<line x1="297.5" y1="291.7" x2="300.5" y2="291.7" stroke="#111" stroke-width="1.0"/>
<line x1="297.5" y1="304.3" x2="300.5" y2="304.3" stroke="#111" stroke-width="1.0"/>
<line x1="267.1" y1="201.1" x2="267.1" y2="206.2" stroke="#111" stroke-width="0.9"/>
<line x1="265.6" y1="201.1" x2="268.6" y2="201.1" stroke="#111" stroke-width="1.0"/>
<line x1="265.6" y1="206.2" x2="268.6" y2="206.2" stroke="#111" stroke-width="1.0"/>
<line x1="299" y1="202.1" x2="299" y2="209.8" stroke="#111" stroke-width="0.9"/>
<line x1="297.5" y1="202.1" x2="300.5" y2="202.1" stroke="#111" stroke-width="1.0"/>
<line x1="297.5" y1="209.8" x2="300.5" y2="209.8" stroke="#111" stroke-width="1.0"/>
<circle cx="203.2" cy="200.4" r="2.2" fill="#a3002a"/>
<circle cx="210.5" cy="236.1" r="2.2" fill="#a3002a"/>
<circle cx="218.9" cy="255.6" r="2.2" fill="#a3002a"/>
<circle cx="234.9" cy="282.4" r="2.2" fill="#a3002a"/>
<circle cx="266.5" cy="293.5" r="2.2" fill="#a3002a"/>
<circle cx="299" cy="297.9" r="2.2" fill="#a3002a"/>
<path d="M203.2 198.12L205.5 202.26L200.9 202.26Z" fill="#1c3e7e"/>
<path d="M211.1 195.62L213.4 199.76L208.8 199.76Z" fill="#1c3e7e"/>
<path d="M218.8 195.32L221.1 199.46L216.5 199.46Z" fill="#1c3e7e"/>
<path d="M234.7 196.02L237 200.16L232.4 200.16Z" fill="#1c3e7e"/>
<path d="M267.1 201.22L269.4 205.36L264.8 205.36Z" fill="#1c3e7e"/>
<path d="M299 203.52L301.3 207.66L296.7 207.66Z" fill="#1c3e7e"/>
<path d="M303.1 206H308.6V297.4H303.1" fill="none" stroke="#2a2a2a" stroke-width="1"/>
<circle cx="312.5" cy="250.3" r="1.05" fill="#1a1a1a"/>
<circle cx="312.5" cy="253.7" r="1.05" fill="#1a1a1a"/>
<text x="330.3" y="181" font-size="11.6" style="fill:#000;stroke:#000;stroke-width:0.4px" font-weight="bold" textLength="9.1" lengthAdjust="spacingAndGlyphs">G</text>
<line x1="363.1" y1="197.3" x2="363.1" y2="329.6" stroke="#231f20" stroke-width="1.45"/>
<line x1="360.3" y1="329.1" x2="363.1" y2="329.1" stroke="#231f20" stroke-width="1"/>
<text x="356.6" y="332.1" font-size="9" text-anchor="end" textLength="4.2" lengthAdjust="spacingAndGlyphs">0</text>
<line x1="360.3" y1="305.12" x2="363.1" y2="305.12" stroke="#231f20" stroke-width="1"/>
<text x="356.6" y="308.12" font-size="9" text-anchor="end" textLength="8.4" lengthAdjust="spacingAndGlyphs">20</text>
<line x1="360.3" y1="281.14" x2="363.1" y2="281.14" stroke="#231f20" stroke-width="1"/>
<text x="356.6" y="284.14" font-size="9" text-anchor="end" textLength="8.4" lengthAdjust="spacingAndGlyphs">40</text>
<line x1="360.3" y1="257.16" x2="363.1" y2="257.16" stroke="#231f20" stroke-width="1"/>
<text x="356.6" y="260.16" font-size="9" text-anchor="end" textLength="8.4" lengthAdjust="spacingAndGlyphs">60</text>
<line x1="360.3" y1="233.18" x2="363.1" y2="233.18" stroke="#231f20" stroke-width="1"/>
<text x="356.6" y="236.18" font-size="9" text-anchor="end" textLength="8.4" lengthAdjust="spacingAndGlyphs">80</text>
<line x1="360.3" y1="209.2" x2="363.1" y2="209.2" stroke="#231f20" stroke-width="1"/>
<text x="356.6" y="212.2" font-size="9" text-anchor="end" textLength="12.6" lengthAdjust="spacingAndGlyphs">100</text>
<line x1="362.6" y1="329.4" x2="471.9" y2="329.4" stroke="#231f20" stroke-width="1.35"/>
<line x1="384.7" y1="329.2" x2="384.7" y2="331.7" stroke="#231f20" stroke-width="1"/>
<line x1="417.2" y1="329.2" x2="417.2" y2="331.7" stroke="#231f20" stroke-width="1"/>
<line x1="449.5" y1="329.2" x2="449.5" y2="331.7" stroke="#231f20" stroke-width="1"/>
<text x="379.6" y="341.9" font-size="8.8" textLength="10.4" lengthAdjust="spacingAndGlyphs">CS</text>
<text x="402.7" y="341.9" font-size="8.8" textLength="29.3" lengthAdjust="spacingAndGlyphs">KPT-330</text>
<text x="435.7" y="341.9" font-size="8.8" textLength="28.6" lengthAdjust="spacingAndGlyphs">KPT-330</text>
<text x="443.1" y="352.3" font-size="8.8" textLength="13.9" lengthAdjust="spacingAndGlyphs">+CS</text>
<text x="339" y="289.9" font-size="10.2" textLength="54.1" lengthAdjust="spacingAndGlyphs" transform="rotate(-90 339 289.9)">Cell viability (%)</text>
<path d="M384.4 182.6V176.4H449.3V182.6" fill="none" stroke="#333" stroke-width="1.2"/>
<path d="M384.4 191.8V185.9H415.8V191.8" fill="none" stroke="#333" stroke-width="1.2"/>
<path d="M418.2 191.8V185.9H449.3V191.8" fill="none" stroke="#333" stroke-width="1.2"/>
<circle cx="413.6" cy="172.7" r="1.05" fill="#1a1a1a"/>
<circle cx="417" cy="172.7" r="1.05" fill="#1a1a1a"/>
<circle cx="420.4" cy="172.7" r="1.05" fill="#1a1a1a"/>
<circle cx="400.1" cy="181.9" r="1.05" fill="#1a1a1a"/>
<circle cx="430.6" cy="181.9" r="1.05" fill="#1a1a1a"/>
<circle cx="434" cy="181.9" r="1.05" fill="#1a1a1a"/>
<circle cx="437.4" cy="181.9" r="1.05" fill="#1a1a1a"/>
<path d="M384.5 196.02L386.15 198.99L382.85 198.99Z" fill="#3a0c55"/>
<path d="M384.7 201.72L386.35 204.69L383.05 204.69Z" fill="#ad0022"/>
<circle cx="382.9" cy="208.1" r="1.45" fill="#ad0022"/>
<circle cx="386.6" cy="209.3" r="1.45" fill="#48a024"/>
<circle cx="382.9" cy="211.9" r="1.45" fill="#3a0c55"/>
<circle cx="379.1" cy="214.9" r="1.45" fill="#3a0c55"/>
<path d="M375.1 214.72L376.75 217.69L373.45 217.69Z" fill="#ad0022"/>
<circle cx="378.9" cy="218.8" r="1.45" fill="#1e5a3e"/>
<circle cx="382.9" cy="218.8" r="1.45" fill="#b96a16"/>
<circle cx="390.4" cy="217.5" r="1.45" fill="#1c3e7e"/>
<circle cx="394.3" cy="217.5" r="1.45" fill="#3a0c55"/>
<circle cx="374.9" cy="221.9" r="1.45" fill="#48a024"/>
<circle cx="386.4" cy="221.6" r="1.45" fill="#ad0022"/>
<path d="M390.4 220.82L392.05 223.79L388.75 223.79Z" fill="#3a0c55"/>
<circle cx="394.3" cy="222.6" r="1.45" fill="#b96a16"/>
<path d="M375.1 223.42L376.75 226.39L373.45 226.39Z" fill="#3a0c55"/>
<circle cx="378.9" cy="223.6" r="1.45" fill="#ad0022"/>
<path d="M382.9 222.52L384.55 225.49L381.25 225.49Z" fill="#1c3e7e"/>
<path d="M386.4 223.42L388.05 226.39L384.75 226.39Z" fill="#3a0c55"/>
<circle cx="390.4" cy="226" r="1.45" fill="#1c3e7e"/>
<circle cx="378.9" cy="227.4" r="1.45" fill="#3a0c55"/>
<circle cx="382.9" cy="228.4" r="1.45" fill="#b96a16"/>
<circle cx="386.4" cy="228.4" r="1.45" fill="#ad0022"/>
<path d="M394.3 225.62L395.95 228.59L392.65 228.59Z" fill="#1c3e7e"/>
<circle cx="390.4" cy="229.9" r="1.45" fill="#3a0c55"/>
<path d="M382.9 230.62L384.55 233.59L381.25 233.59Z" fill="#4ea8e8"/>
<circle cx="386.4" cy="233.4" r="1.45" fill="#48a024"/>
<path d="M384.7 241.62L386.35 244.59L383.05 244.59Z" fill="#48a024"/>
<circle cx="414.5" cy="208.1" r="1.45" fill="#ad0022"/>
<path d="M419.8 206.62L421.45 209.59L418.15 209.59Z" fill="#ad0022"/>
<path d="M417.2 210.42L418.85 213.39L415.55 213.39Z" fill="#3a0c55"/>
<circle cx="414.5" cy="215.2" r="1.45" fill="#1c3e7e"/>
<path d="M409.2 216.42L410.85 219.39L407.55 219.39Z" fill="#1c3e7e"/>
<circle cx="414.5" cy="219.9" r="1.45" fill="#48a024"/>
<path d="M419.8 216.42L421.45 219.39L418.15 219.39Z" fill="#ad0022"/>
<path d="M425.2 217.22L426.85 220.19L423.55 220.19Z" fill="#4ea8e8"/>
<circle cx="419.8" cy="221.9" r="1.45" fill="#ad0022"/>
<circle cx="425.2" cy="222.5" r="1.45" fill="#1c3e7e"/>
<circle cx="414.5" cy="223.8" r="1.45" fill="#48a024"/>
<circle cx="419.8" cy="224.5" r="1.45" fill="#3a0c55"/>
<circle cx="417.2" cy="227.2" r="1.45" fill="#ad0022"/>
<path d="M414.5 228.82L416.15 231.79L412.85 231.79Z" fill="#1c3e7e"/>
<path d="M419.8 228.52L421.45 231.49L418.15 231.49Z" fill="#3a0c55"/>
<circle cx="409.2" cy="234.4" r="1.45" fill="#1e5a3e"/>
<circle cx="414.5" cy="234.4" r="1.45" fill="#3a0c55"/>
<path d="M419.8 234.12L421.45 237.09L418.15 237.09Z" fill="#ad0022"/>
<circle cx="414.5" cy="238.2" r="1.45" fill="#3a0c55"/>
<circle cx="425.2" cy="239.2" r="1.45" fill="#3a0c55"/>
<path d="M414.5 240.52L416.15 243.49L412.85 243.49Z" fill="#3a0c55"/>
<path d="M419.8 240.52L421.45 243.49L418.15 243.49Z" fill="#3a0c55"/>
<circle cx="417.2" cy="246.5" r="1.45" fill="#b96a16"/>
<circle cx="414.5" cy="251.1" r="1.45" fill="#b96a16"/>
<circle cx="419.8" cy="253.7" r="1.45" fill="#b96a16"/>
<path d="M414.5 254.62L416.15 257.59L412.85 257.59Z" fill="#48a024"/>
<circle cx="419.8" cy="260.9" r="1.45" fill="#ad0022"/>
<path d="M414.5 260.52L416.15 263.49L412.85 263.49Z" fill="#3a0c55"/>
<path d="M444.5 240.02L446.15 242.99L442.85 242.99Z" fill="#ad0022"/>
<path d="M444.5 243.82L446.15 246.79L442.85 246.79Z" fill="#1c3e7e"/>
<path d="M449.5 242.42L451.15 245.39L447.85 245.39Z" fill="#48a024"/>
<path d="M454.9 240.02L456.55 242.99L453.25 242.99Z" fill="#4ea8e8"/>
<circle cx="449.5" cy="247.7" r="1.45" fill="#3a0c55"/>
<circle cx="454.9" cy="246.5" r="1.45" fill="#1c3e7e"/>
<circle cx="454.9" cy="251.3" r="1.45" fill="#3a0c55"/>
<circle cx="444.5" cy="253.6" r="1.45" fill="#ad0022"/>
<circle cx="449.5" cy="252.5" r="1.45" fill="#ad0022"/>
<path d="M449.5 254.62L451.15 257.59L447.85 257.59Z" fill="#1c3e7e"/>
<path d="M447 259.72L448.65 262.69L445.35 262.69Z" fill="#3a0c55"/>
<circle cx="452.3" cy="261.8" r="1.45" fill="#48a024"/>
<circle cx="449.5" cy="265.4" r="1.45" fill="#48a024"/>
<path d="M444.5 264.52L446.15 267.49L442.85 267.49Z" fill="#b96a16"/>
<circle cx="454.9" cy="269.4" r="1.45" fill="#b96a16"/>
<path d="M444.5 271.42L446.15 274.39L442.85 274.39Z" fill="#ad0022"/>
<path d="M449.5 270.02L451.15 272.99L447.85 272.99Z" fill="#ad0022"/>
<circle cx="454.9" cy="272.9" r="1.45" fill="#3a0c55"/>
<path d="M447 276.22L448.65 279.19L445.35 279.19Z" fill="#3a0c55"/>
<circle cx="452.3" cy="277.6" r="1.45" fill="#1c3e7e"/>
<path d="M444.5 281.12L446.15 284.09L442.85 284.09Z" fill="#3a0c55"/>
<circle cx="454.9" cy="284.7" r="1.45" fill="#3a0c55"/>
<path d="M444.5 285.92L446.15 288.89L442.85 288.89Z" fill="#3a0c55"/>
<circle cx="454.9" cy="289.5" r="1.45" fill="#1e5a3e"/>
<circle cx="444.5" cy="291.8" r="1.45" fill="#b96a16"/>
<path d="M449.5 291.62L451.15 294.59L447.85 294.59Z" fill="#48a024"/>
<circle cx="454.9" cy="293.4" r="1.45" fill="#ad0022"/>
<circle cx="444.5" cy="295.7" r="1.45" fill="#3a0c55"/>
<line x1="374.1" y1="221.2" x2="395.7" y2="221.2" stroke="#111" stroke-width="1.5"/>
<line x1="406.5" y1="231.8" x2="427.9" y2="231.8" stroke="#111" stroke-width="1.5"/>
<line x1="439.1" y1="267.9" x2="460.5" y2="267.9" stroke="#111" stroke-width="1.5"/>
<circle cx="372.7" cy="286.9" r="2.25" fill="#ad0022"/>
<text x="378.5" y="289.6" font-size="8.2" textLength="22.2" lengthAdjust="spacingAndGlyphs">DLBCL</text>
<circle cx="372.7" cy="294.5" r="2.25" fill="#1c3e7e"/>
<text x="378.5" y="297.2" font-size="8.2" textLength="15" lengthAdjust="spacingAndGlyphs">MCL</text>
<circle cx="372.7" cy="302" r="2.25" fill="#48a024"/>
<text x="378.5" y="304.7" font-size="8.2" textLength="13" lengthAdjust="spacingAndGlyphs">TCL</text>
<circle cx="372.7" cy="309.4" r="2.25" fill="#3a0c55"/>
<text x="378.5" y="312.1" font-size="8.2" textLength="13.4" lengthAdjust="spacingAndGlyphs">MM</text>
<circle cx="372.7" cy="316.8" r="2.25" fill="#b96a16"/>
<text x="378.5" y="319.5" font-size="8.2" textLength="13.9" lengthAdjust="spacingAndGlyphs">WM</text>
<circle cx="372.7" cy="324.3" r="2.25" fill="#1e5a3e"/>
<text x="378.5" y="327" font-size="8.2" textLength="11.9" lengthAdjust="spacingAndGlyphs">ALL</text>
<path d="M401.5 291.91L403.9 296.23L399.1 296.23Z" fill="#3a0c55"/>
<text x="406.5" y="297.2" font-size="8.2" textLength="20.8" lengthAdjust="spacingAndGlyphs">Breast</text>
<path d="M401.5 299.41L403.9 303.73L399.1 303.73Z" fill="#48a024"/>
<text x="406.5" y="304.7" font-size="8.2" textLength="29.6" lengthAdjust="spacingAndGlyphs">Pancreas</text>
<path d="M401.5 306.81L403.9 311.13L399.1 311.13Z" fill="#ad0022"/>
<text x="406.5" y="312.1" font-size="8.2" textLength="23.9" lengthAdjust="spacingAndGlyphs">NSCLC</text>
<path d="M401.5 314.21L403.9 318.53L399.1 318.53Z" fill="#1c3e7e"/>
<text x="406.5" y="319.5" font-size="8.2" textLength="28.5" lengthAdjust="spacingAndGlyphs">Sarcoma</text>
<path d="M401.5 321.71L403.9 326.03L399.1 326.03Z" fill="#4ea8e8"/>
<text x="406.5" y="327" font-size="8.2" textLength="17.7" lengthAdjust="spacingAndGlyphs">SCLC</text>
<rect x="0.5" y="0.5" width="519" height="364" fill="none" stroke="#000" stroke-width="1"/>
</svg>
</body></html>
